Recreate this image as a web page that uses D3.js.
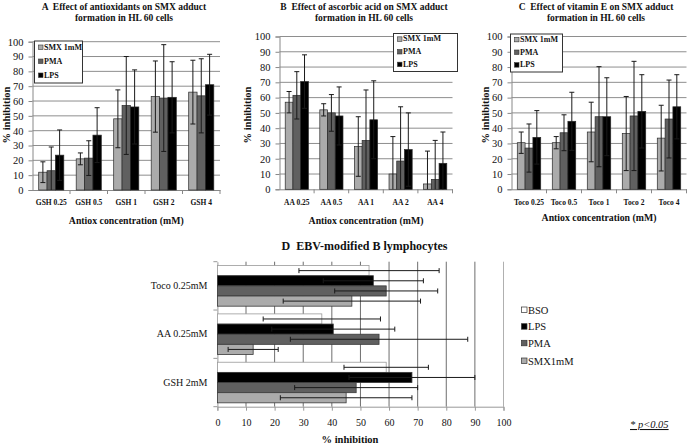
<!DOCTYPE html>
<html><head><meta charset="utf-8">
<script src="https://cdn.jsdelivr.net/npm/d3@7"></script>
<style>body{margin:0;background:#fff}svg{display:block}</style>
</head><body>
<script>
// ---------- data ----------
const seriesNames = ["SMX 1mM", "PMA", "LPS"];
const yTickValues = [0,10,20,30,40,50,60,70,80,90,100];

const catsA = ["GSH 0.25", "GSH 0.5", "GSH 1", "GSH 2", "GSH 4"];
const smxA = [12, 21, 48, 63, 66];
const pmaA = [13, 21.5, 57, 62, 63.5];
const lpsA = [23.5, 37, 56, 62.5, 71];
const smxErrA = [7, 4, 19.5, 24, 21.5];
const pmaErrA = [16, 11.7, 33, 36, 25];
const lpsErrA = [17, 18.5, 25, 24, 20.5];

const catsB = ["AA 0.25", "AA 0.5", "AA 1", "AA 2", "AA 4"];
const smxB = [57, 52, 28, 10, 3.5];
const pmaB = [61.5, 50, 32, 18.5, 6.5];
const lpsB = [70.5, 48, 45.5, 26, 17];
const smxErrB = [7, 4, 19.5, 24.5, 21.5];
const pmaErrB = [15.5, 12, 33, 35.5, 25.5];
const lpsErrB = [17.5, 19, 25.5, 24, 20.5];

const catsC = ["Toco 0.25", "Toco 0.5", "Toco 1", "Toco 2", "Toco 4"];
const smxC = [30.5, 30.5, 37.5, 36.5, 33.5];
const pmaC = [27, 37, 47.5, 48, 46];
const lpsC = [34, 44.5, 47.5, 51, 54];
const smxErrC = [7, 4, 19.5, 24.25, 21.5];
const pmaErrC = [15.75, 11.75, 32.75, 35.75, 25.5];
const lpsErrC = [17.5, 19, 25.5, 24, 21];

const catsD = ["Toco 0.25mM", "AA 0.25mM", "GSH 2mM"];
const seriesD = ["BSO", "LPS", "PMA", "SMX1mM"];
const bsoD = [53, 36.5, 59];
const lpsD = [54.5, 40.5, 68];
const pmaD = [59, 56.5, 48.5];
const smxD = [47, 12.5, 45];
const bsoErrD = [24.5, 20.5, 14.75];
const lpsErrD = [17.5, 21.5, 22];
const pmaErrD = [18, 31, 21.5];
const smxErrD = [24, 8.75, 23];
const xTicksD = [0,10,20,30,40,50,60,70,80,90,100];

// ---------- style ----------
const SERIF = "'Liberation Serif','Times New Roman',serif";
const colors = {"SMX 1mM":"#ababab","PMA":"#606060","LPS":"#000000","BSO":"#ffffff","SMX1mM":"#ababab"};
const gridColor = "#8e8e8e";
const errColor = "#1a1a1a";

const svg = d3.select("body").append("svg").attr("width", 688).attr("height", 445)
  .attr("font-family", SERIF);
svg.append("rect").attr("width", 688).attr("height", 445).attr("fill", "#fff");

function vpanel(cfg) {
  const g = svg.append("g");
  const x = d3.scaleBand().domain(cfg.cats).range([cfg.x0, cfg.x1]);
  const xs = d3.scaleBand().domain(seriesNames).range([0, x.bandwidth()]).paddingOuter(0.74);
  const y = d3.scaleLinear().domain([0, 100]).range([cfg.yb, cfg.yt]);

  // gridlines
  g.append("g").selectAll("line").data(yTickValues.filter(v => v > 0)).join("line")
    .attr("x1", cfg.x0).attr("x2", cfg.x1).attr("y1", d => y(d)).attr("y2", d => y(d))
    .attr("stroke", gridColor).attr("stroke-width", 1);

  // y axis
  const ya = g.append("g").attr("transform", `translate(${cfg.x0},0)`)
    .call(d3.axisLeft(y).tickValues(yTickValues).tickSize(4).tickPadding(5));
  ya.attr("font-family", SERIF).attr("font-size", 10.5);
  ya.selectAll("path,line").attr("stroke", "#888");
  ya.selectAll("text").attr("fill", "#111");

  // x axis
  const xa = g.append("g").attr("transform", `translate(0,${cfg.yb})`)
    .call(d3.axisBottom(x).tickSize(0).tickPadding(10));
  xa.attr("font-family", SERIF).attr("font-size", 7.5).attr("font-weight", "bold");
  xa.select("path").attr("stroke", "#888");
  xa.selectAll("text").attr("fill", "#111");
  xa.append("g").selectAll("line").data(cfg.cats.slice(1)).join("line")
    .attr("x1", d => x(d)).attr("x2", d => x(d)).attr("y1", 0).attr("y2", 4).attr("stroke", "#888");
  xa.append("line").attr("x1", cfg.x1).attr("x2", cfg.x1).attr("y1", 0).attr("y2", 4).attr("stroke", "#888");

  const data = [];
  cfg.cats.forEach((c, i) => {
    seriesNames.forEach((s, j) => data.push({c, s, v: cfg.vals[j][i], e: cfg.errs[j][i]}));
  });
  g.append("g").selectAll("rect").data(data).join("rect")
    .attr("x", d => x(d.c) + xs(d.s)).attr("width", xs.bandwidth())
    .attr("y", d => y(d.v)).attr("height", d => y(0) - y(d.v))
    .attr("fill", d => colors[d.s]).attr("stroke", "#2a2a2a").attr("stroke-width", 0.7);

  const eg = g.append("g").attr("stroke", errColor).attr("stroke-width", 1);
  data.forEach(d => {
    const cx = x(d.c) + xs(d.s) + xs.bandwidth() / 2;
    const hi = Math.min(100, d.v + d.e), lo = Math.max(0, d.v - d.e);
    eg.append("line").attr("x1", cx).attr("x2", cx).attr("y1", y(hi)).attr("y2", y(lo));
    eg.append("line").attr("x1", cx - 2.5).attr("x2", cx + 2.5).attr("y1", y(hi)).attr("y2", y(hi));
    if (d.v - d.e > 0)
      eg.append("line").attr("x1", cx - 2.5).attr("x2", cx + 2.5).attr("y1", y(lo)).attr("y2", y(lo));
  });

  // legend
  const lg = g.append("g");
  lg.append("rect").attr("x", cfg.lx).attr("y", cfg.ly).attr("width", cfg.lw).attr("height", cfg.lh)
    .attr("fill", "#fff").attr("stroke", "#333").attr("stroke-width", 1);
  seriesNames.forEach((s, j) => {
    const yy = cfg.ly + cfg.lh * (j + 0.5) / 3 + 1;
    lg.append("rect").attr("x", cfg.lx + 4).attr("y", yy - 4).attr("width", 4.5).attr("height", 4.5)
      .attr("fill", colors[s]).attr("stroke", "#333").attr("stroke-width", 0.6);
    lg.append("text").attr("x", cfg.lx + 9.5).attr("y", yy + 0.5).text(s)
      .attr("font-size", 8).attr("font-weight", "bold").attr("fill", "#111");
  });

  // titles
  cfg.title.forEach((t, k) => {
    g.append("text").attr("x", cfg.tx).attr("y", 9.5 + k * 11.5).attr("text-anchor", "middle")
      .attr("font-size", 9.5).attr("font-weight", "bold").attr("fill", "#111")
      .attr("xml:space", "preserve").style("white-space", "pre").text(t);
  });
  g.append("text").attr("transform", `translate(${cfg.ylx},115) rotate(-90)`)
    .attr("text-anchor", "middle").attr("dominant-baseline", "central")
    .attr("font-size", 10.5).attr("font-weight", "bold").attr("fill", "#111").text("% inhibition");
  g.append("text").attr("x", (cfg.x0 + cfg.x1) / 2).attr("y", cfg.xty).attr("text-anchor", "middle")
    .attr("font-size", 9.8).attr("font-weight", "bold").attr("fill", "#111").text("Antiox concentration (mM)");
}

vpanel({cats: catsA, vals: [smxA, pmaA, lpsA], errs: [smxErrA, pmaErrA, lpsErrA],
  x0: 32.5, x1: 220, yt: 41.7, yb: 190, lx: 34.5, ly: 41, lw: 48, lh: 42,
  title: ["A  Effect of antioxidants on SMX adduct", "formation in HL 60 cells"], tx: 124,
  ylx: 6, xty: 224});
vpanel({cats: catsB, vals: [smxB, pmaB, lpsB], errs: [smxErrB, pmaErrB, lpsErrB],
  x0: 279.5, x1: 452.5, yt: 36.5, yb: 189.3, lx: 393.5, ly: 33.5, lw: 64, lh: 38,
  title: ["B  Effect of ascorbic acid on SMX adduct", "formation in HL 60 cells"], tx: 364,
  ylx: 247, xty: 224});
vpanel({cats: catsC, vals: [smxC, pmaC, lpsC], errs: [smxErrC, pmaErrC, lpsErrC],
  x0: 511.5, x1: 686.5, yt: 36.5, yb: 189.3, lx: 510.5, ly: 34, lw: 52, lh: 38,
  title: ["C  Effect of vitamin E on SMX adduct", "formation in HL 60 cells"], tx: 596,
  ylx: 485, xty: 220.5});

// ---------- panel D ----------
(function () {
  const g = svg.append("g");
  const x = d3.scaleLinear().domain([0, 100]).range([217.4, 503.5]);
  const y = d3.scaleBand().domain(catsD).range([261.7, 406.7]);
  const ys = d3.scaleBand().domain(seriesD).range([0, y.bandwidth()]).paddingOuter(0.38);
  const valsD = {"BSO": bsoD, "LPS": lpsD, "PMA": pmaD, "SMX1mM": smxD};
  const errsD = {"BSO": bsoErrD, "LPS": lpsErrD, "PMA": pmaErrD, "SMX1mM": smxErrD};

  g.append("g").selectAll("line").data(xTicksD.filter(v => v > 0)).join("line")
    .attr("x1", d => x(d)).attr("x2", d => x(d)).attr("y1", 261.7).attr("y2", 406.7)
    .attr("stroke", d => d === 100 ? "#b0b0b0" : "#6e6e6e").attr("stroke-width", 1);

  const xa = g.append("g").attr("transform", "translate(0,406.7)")
    .call(d3.axisBottom(x).tickValues(xTicksD).tickSize(4).tickPadding(8));
  xa.attr("font-family", SERIF).attr("font-size", 10);
  xa.selectAll("path,line").attr("stroke", "#999");
  xa.selectAll("text").attr("fill", "#111");

  const ya = g.append("g").attr("transform", "translate(217.4,0)")
    .call(d3.axisLeft(y).tickSize(0).tickPadding(10));
  ya.attr("font-family", SERIF).attr("font-size", 10);
  ya.select("path").attr("stroke", "#999");
  ya.selectAll("text").attr("fill", "#111");
  ya.append("g").selectAll("line").data(catsD).join("line")
    .attr("x1", -4).attr("x2", 0).attr("y1", d => y(d)).attr("y2", d => y(d)).attr("stroke", "#999");
  ya.append("line").attr("x1", -4).attr("x2", 0).attr("y1", 406.7).attr("y2", 406.7).attr("stroke", "#999");

  const data = [];
  catsD.forEach((c, i) => seriesD.forEach(s => data.push({c, s, v: valsD[s][i], e: errsD[s][i]})));
  g.append("g").selectAll("rect").data(data).join("rect")
    .attr("x", x(0)).attr("width", d => x(d.v) - x(0))
    .attr("y", d => y(d.c) + ys(d.s)).attr("height", ys.bandwidth())
    .attr("fill", d => colors[d.s]).attr("stroke", d => d.s === "BSO" ? "#9a9a9a" : "#3a3a3a")
    .attr("stroke-width", 0.8);
  const eg = g.append("g").attr("stroke", errColor).attr("stroke-width", 1);
  data.forEach(d => {
    const cy = y(d.c) + ys(d.s) + ys.bandwidth() / 2;
    const lo = d.v - d.e, hi = d.v + d.e;
    eg.append("line").attr("x1", x(lo)).attr("x2", x(hi)).attr("y1", cy).attr("y2", cy);
    [lo, hi].forEach(v => eg.append("line").attr("x1", x(v)).attr("x2", x(v))
      .attr("y1", cy - 2.5).attr("y2", cy + 2.5));
  });

  g.append("text").attr("x", 364.5).attr("y", 249.5).attr("text-anchor", "middle")
    .attr("font-size", 12).attr("font-weight", "bold").attr("fill", "#111")
    .style("white-space", "pre").text("D  EBV-modified B lymphocytes");
  g.append("text").attr("x", 350).attr("y", 443).attr("text-anchor", "middle")
    .attr("font-size", 10.5).attr("font-weight", "bold").attr("fill", "#111").text("% inhibition");

  // legend
  const lgY = [310, 326.7, 343.3, 361];
  seriesD.forEach((s, j) => {
    g.append("rect").attr("x", 521.5).attr("y", lgY[j] - 3).attr("width", 5.5).attr("height", 5.5)
      .attr("fill", colors[s]).attr("stroke", "#333").attr("stroke-width", 0.7);
    g.append("text").attr("x", 528).attr("y", lgY[j] + 3.5).attr("font-size", 10.5)
      .attr("fill", "#111").text(s);
  });

  g.append("text").attr("x", 630).attr("y", 428).attr("font-size", 10.5).attr("font-style", "italic")
    .attr("text-decoration", "underline").attr("fill", "#111").text("* p<0.05");
})();
</script>
</body></html>
